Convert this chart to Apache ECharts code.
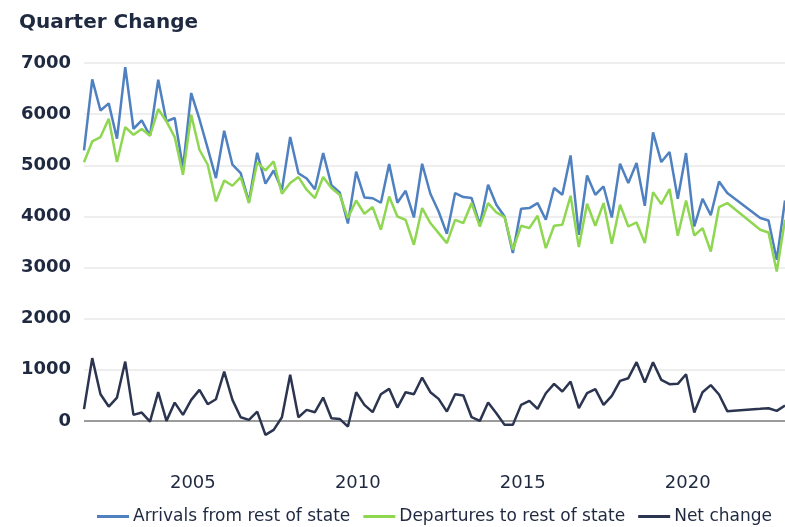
<!DOCTYPE html>
<html>
<head>
<meta charset="utf-8">
<script src="https://cdn.jsdelivr.net/npm/echarts@6/dist/echarts.min.js"></script>
<style>html,body{margin:0;padding:0;background:#fff}#chart{width:785px;height:527px}</style>
</head>
<body>
<div id="chart"></div>
<script>
const quarters = [
  '2001Q3','2001Q4',
  '2002Q1','2002Q2','2002Q3','2002Q4',
  '2003Q1','2003Q2','2003Q3','2003Q4',
  '2004Q1','2004Q2','2004Q3','2004Q4',
  '2005Q1','2005Q2','2005Q3','2005Q4',
  '2006Q1','2006Q2','2006Q3','2006Q4',
  '2007Q1','2007Q2','2007Q3','2007Q4',
  '2008Q1','2008Q2','2008Q3','2008Q4',
  '2009Q1','2009Q2','2009Q3','2009Q4',
  '2010Q1','2010Q2','2010Q3','2010Q4',
  '2011Q1','2011Q2','2011Q3','2011Q4',
  '2012Q1','2012Q2','2012Q3','2012Q4',
  '2013Q1','2013Q2','2013Q3','2013Q4',
  '2014Q1','2014Q2','2014Q3','2014Q4',
  '2015Q1','2015Q2','2015Q3','2015Q4',
  '2016Q1','2016Q2','2016Q3','2016Q4',
  '2017Q1','2017Q2','2017Q3','2017Q4',
  '2018Q1','2018Q2','2018Q3','2018Q4',
  '2019Q1','2019Q2','2019Q3','2019Q4',
  '2020Q1','2020Q2','2020Q3','2020Q4',
  '2021Q1',
  '2022Q1','2022Q2','2022Q3','2022Q4'
];
const arrivals = [
  5290,6680,6070,6210,5520,6920,5714,5877,5577,6673,
  5857,5924,4945,6413,5900,5330,4749,5675,5010,4847,
  4285,5245,4640,4898,4518,5552,4845,4740,4530,5240,
  4612,4470,3862,4875,4370,4355,4266,5022,4265,4501,
  3979,5029,4442,4096,3659,4456,4377,4358,3836,4618,
  4227,3998,3282,4149,4162,4260,3933,4554,4423,5192,
  3640,4800,4423,4585,3979,5029,4651,5043,4207,5642,
  5062,5258,4344,5238,3802,4344,4025,4683,4456,
  3967,3920,3151,4311
];
const departures = [
  5060,5466,5551,5910,5062,5747,5597,5708,5577,6100,
  5857,5551,4814,5988,5303,5010,4292,4703,4599,4769,
  4260,5055,4898,5074,4442,4651,4769,4521,4358,4769,
  4554,4423,3967,4311,4051,4182,3738,4390,3998,3933,
  3444,4162,3869,3673,3477,3933,3869,4260,3802,4260,
  4077,3986,3346,3816,3771,4012,3379,3816,3836,4403,
  3399,4247,3816,4260,3464,4227,3802,3881,3477,4475,
  4240,4534,3620,4311,3626,3771,3313,4182,4260,
  3738,3685,2922,3933
];
const netChange = [
  230,1227,522,280,456,1160,117,163,-13,561,
  0,358,117,411,607,326,424,965,411,72,
  20,182,-274,-176,72,900,72,215,170,456,
  53,39,-111,561,313,170,522,626,260,561,
  522,848,561,430,182,522,495,72,0,358,
  150,-78,-78,313,391,235,541,724,574,769,
  248,541,620,313,489,783,835,1148,750,1148,
  802,718,724,913,163,561,700,515,190,
  235,248,196,299
];
const xTicks = [2005, 2010, 2015, 2020];
const seriesNames = ['Arrivals from rest of state', 'Departures to rest of state', 'Net change'];

function qToYear(q) {
  const y = parseInt(q.slice(0, 4), 10);
  const n = parseInt(q.slice(5), 10);
  return y + (n - 1) * 0.25 + 0.2;
}
function pairs(vals) { return vals.map((v, i) => [qToYear(quarters[i]), v]); }

const txt = '#1f2940';
const gridColors = ['rgba(0,0,0,0)', '#7a7a7a', '#e8e8e8', '#e8e8e8', '#e8e8e8', '#e8e8e8', '#e8e8e8', '#e8e8e8', '#e8e8e8'];

const chart = echarts.init(document.getElementById('chart'));
chart.setOption({
  animation: false,
  title: {
    text: 'Quarter Change', left: 14, top: 8,
    textStyle: { fontFamily: 'DejaVu Sans', fontSize: 20, fontWeight: 'bold', color: txt }
  },
  grid: { left: 84, right: 0, top: 63, bottom: 55 },
  legend: {
    left: 97, top: 508, padding: 0, itemWidth: 32, itemHeight: 3, itemGap: 13, icon: 'rect',
    textStyle: { fontFamily: 'DejaVu Sans', fontSize: 17, color: txt, padding: [0, 0, 0, -1] },
    data: seriesNames
  },
  xAxis: {
    type: 'value', min: 2001.7, max: 2022.95,
    axisLine: { show: false }, axisTick: { show: false }, splitLine: { show: false },
    axisLabel: {
      customValues: xTicks, formatter: v => String(Math.round(v)),
      fontFamily: 'DejaVu Sans', fontSize: 18, fontWeight: 500, color: txt, margin: 2
    }
  },
  yAxis: {
    type: 'value', min: -1000, max: 7000, interval: 1000,
    axisLine: { show: false }, axisTick: { show: false },
    axisLabel: {
      formatter: v => (v < 0 ? '' : String(v)),
      fontFamily: 'DejaVu Sans', fontSize: 18, fontWeight: 'bold', color: txt, margin: 13
    },
    splitLine: { lineStyle: { color: gridColors, width: 1.5 } }
  },
  series: [
    { name: seriesNames[0], type: 'line', data: pairs(arrivals), showSymbol: false, symbol: 'none',
      lineStyle: { color: '#4f80c0', width: 2.5 }, itemStyle: { color: '#4f80c0' } },
    { name: seriesNames[1], type: 'line', data: pairs(departures), showSymbol: false, symbol: 'none',
      lineStyle: { color: '#8fd651', width: 2.5 }, itemStyle: { color: '#8fd651' } },
    { name: seriesNames[2], type: 'line', data: pairs(netChange), showSymbol: false, symbol: 'none',
      lineStyle: { color: '#2c3550', width: 2.5 }, itemStyle: { color: '#2c3550' } }
  ]
});
</script>
</body>
</html>
